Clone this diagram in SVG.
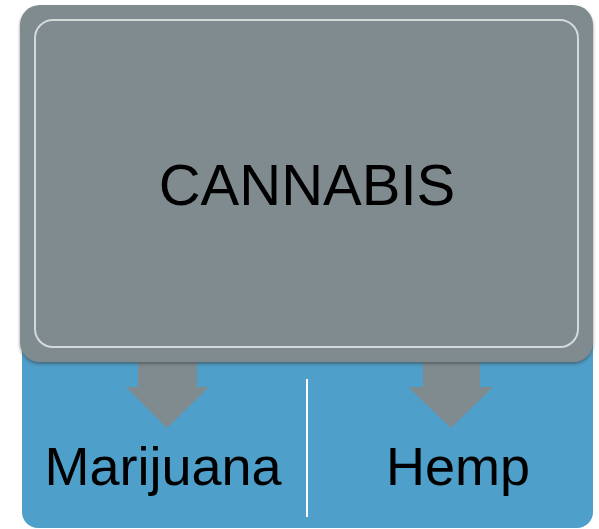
<svg xmlns="http://www.w3.org/2000/svg" width="599" height="529" viewBox="0 0 599 529">
<defs>
<style>
.lbl{font-family:"Liberation Sans",Arial,Helvetica,sans-serif;fill:#000;text-anchor:middle}
.arrow{fill:#808b8f}
</style>
<filter id="sh" x="-5%" y="-5%" width="110%" height="115%">
<feDropShadow dx="0" dy="2" stdDeviation="1.5" flood-color="#3a4448" flood-opacity="0.6"/>
</filter>
</defs>
<rect width="599" height="529" fill="#ffffff"/>
<g id="node-blue">
<rect x="22" y="300" width="571" height="228" rx="16" ry="16" fill="#4e9fc9"/>
</g>
<g id="connectors">
<polygon class="arrow" points="138,355 197,355 197,387 209,387 167,428 126,387 138,387"/>
<polygon class="arrow" points="423,355 480,355 480,387 493,387 451,428 408,387 423,387"/>
<line x1="307" y1="379" x2="307" y2="517" stroke="#ffffff" stroke-width="2"/>
</g>
<g id="node-cannabis">
<rect x="20" y="5" width="573" height="357" rx="20" ry="20" fill="#808b8f" filter="url(#sh)"/>
<rect x="35" y="20" width="543" height="327" rx="18" ry="18" fill="none" stroke="#d3dada" stroke-width="2"/>
<text class="lbl" x="307" y="205" font-size="58">CANNABIS</text>
</g>
<g id="node-marijuana">
<text class="lbl" x="163" y="485" font-size="54">Marijuana</text>
</g>
<g id="node-hemp">
<text class="lbl" x="458" y="485" font-size="54">Hemp</text>
</g>
</svg>
